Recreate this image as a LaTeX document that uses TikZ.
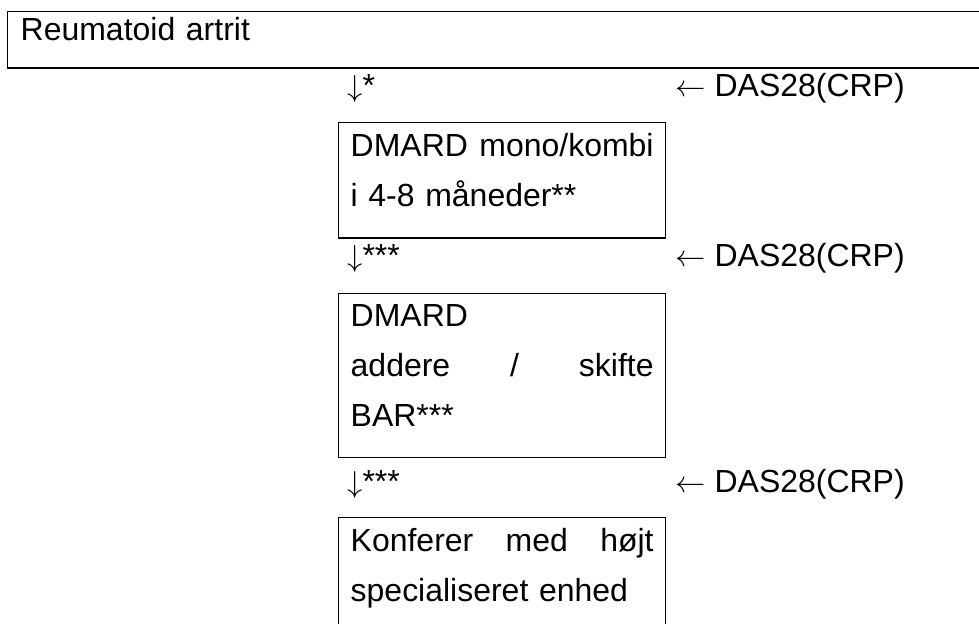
\documentclass[tikz,border=0pt]{standalone}
\usepackage{fontspec}
\setmainfont{Liberation Sans}
\usetikzlibrary{positioning}

\tikzset{
  boks/.style={draw, line width=0.8pt, anchor=north west, inner xsep=0.24cm, inner ysep=0.22cm, text width=6.06cm, align=left},
  pil/.style={anchor=base west, inner sep=0pt},
}

\begin{document}
\begin{tikzpicture}[x=0.02cm, y=-0.02cm, font=\fontsize{18.2}{28.45}\selectfont]
    \useasboundingbox (0,0) rectangle (979,624);
    \clip (0,0) rectangle (979,624);

    % Diagnose (boksen fortsætter ud over højre kant)
    \node[boks, text width=19.34cm, inner xsep=0.26cm, inner ysep=0.12cm] (ra) at (7,11) {Reumatoid artrit\rule[-0.42cm]{0pt}{0pt}};

    % Trin 1
    \node[pil] (ned1) at (347,97) {$\downarrow$*};
    \node[pil] (das1) at (675,97) {$\leftarrow$ DAS28(CRP)};
    \node[boks] (mono) at (338,122) {\makebox[6.06cm][l]{DMARD\hfill mono/kombi}\\ i 4-8 måneder**\rule[-0.4cm]{0pt}{0pt}};

    % Trin 2
    \node[pil] (ned2) at (347,267) {$\downarrow$***};
    \node[pil] (das2) at (675,267) {$\leftarrow$ DAS28(CRP)};
    \node[boks] (skift) at (338,293) {DMARD\\ \makebox[6.06cm][l]{addere\hfill/\hfill skifte}\\ BAR***\rule[-0.4cm]{0pt}{0pt}};

    % Trin 3
    \node[pil] (ned3) at (347,492) {$\downarrow$***};
    \node[pil] (das3) at (675,492) {$\leftarrow$ DAS28(CRP)};
    \node[boks] (konf) at (338,517) {\makebox[6.06cm][l]{Konferer\hfill med\hfill højt}\\ specialiseret enhed\rule[-2cm]{0pt}{0pt}};
\end{tikzpicture}
\end{document}
